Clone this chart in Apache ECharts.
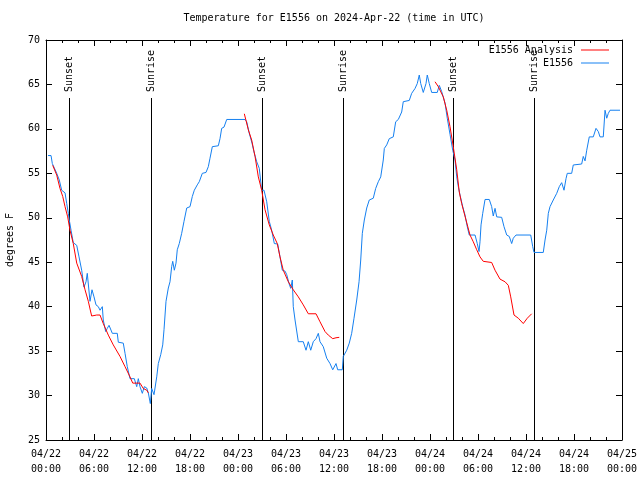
<!DOCTYPE html>
<html><head><meta charset="utf-8">
<script src="https://cdn.jsdelivr.net/npm/echarts@6/dist/echarts.min.js"></script>
<style>html,body{margin:0;padding:0;background:#fff}#c{width:640px;height:480px}</style>
</head><body><div id="c"></div>
<script>
// Observed series E1556 (hours since 2024-04-22 00:00 UTC, degrees F)
var obsHours = [0.25,0.63,0.79,1.04,1.34,1.66,1.96,2.38,2.59,2.79,2.91,3.13,3.41,3.84,4.13,4.46,4.75,5.0,5.16,5.34,5.5,5.75,6.0,6.25,6.54,6.75,7.04,7.16,7.46,7.66,7.88,8.13,8.29,8.91,9.04,9.66,9.88,10.16,10.5,11.04,11.34,11.54,11.75,12.04,12.29,12.59,12.79,13.04,13.21,13.5,13.84,14.04,14.34,14.59,14.75,15.0,15.29,15.5,15.71,15.84,16.04,16.25,16.41,16.66,16.96,17.25,17.59,18.0,18.29,18.54,18.91,19.16,19.54,20.0,20.29,20.5,20.79,21.54,21.75,21.96,22.25,22.59,24.88,25.09,25.41,25.75,26.0,26.34,26.66,26.96,27.25,27.59,27.91,28.21,28.54,28.96,29.25,29.54,29.88,30.09,30.38,30.59,30.79,30.91,31.13,31.54,32.16,32.5,32.79,33.09,33.41,33.75,34.04,34.25,34.66,35.09,35.5,35.84,36.25,36.46,37.04,37.16,37.59,37.91,38.21,38.5,38.84,39.13,39.34,39.54,39.79,40.09,40.41,40.91,41.21,41.54,41.84,42.16,42.29,42.59,42.91,43.41,43.71,44.04,44.46,44.66,45.41,45.71,46.13,46.41,46.66,46.84,47.16,47.5,47.66,47.91,48.21,48.91,49.16,49.46,49.88,50.16,50.5,50.84,51.13,51.34,51.54,51.75,52.09,52.38,52.66,52.91,53.63,53.91,54.13,54.25,54.38,54.59,54.88,55.41,55.71,55.91,56.13,56.34,56.96,57.25,57.59,57.91,58.21,58.41,58.75,60.59,60.84,61.0,62.16,62.38,62.59,62.79,63.0,63.41,63.84,64.16,64.46,64.75,65.0,65.16,65.71,65.91,66.96,67.16,67.38,67.59,67.91,68.41,68.75,69.04,69.25,69.66,69.88,70.09,70.29,70.5,71.75];
var obsTemps = [57.0,57.0,56.1,55.9,55.0,54.25,53.1,52.8,51.6,50.5,49.75,48.6,47.2,46.9,45.6,44.1,42.2,42.8,43.75,43.9,40.6,41.9,41.1,40.2,40.0,39.6,40.0,38.5,37.2,37.56,37.9,37.75,37.0,37.0,36.0,35.9,34.75,33.25,31.9,31.9,31.0,31.9,31.0,30.25,31.0,30.85,30.3,29.1,30.8,30.1,32.1,33.6,34.6,35.7,37.4,40.6,42.1,42.8,44.5,45.1,44.1,44.9,46.4,47.1,48.25,49.6,51.1,51.25,52.4,53.1,53.7,54.06,55.0,55.1,55.75,56.7,58.0,58.1,58.9,60.06,60.2,61.06,61.06,60.8,59.5,58.4,57.4,56.3,55.56,53.1,53.1,51.8,49.6,48.6,47.1,47.05,45.6,44.1,44.0,43.6,42.6,42.06,43.0,40.0,38.5,36.06,36.06,35.1,36.06,35.1,36.06,36.4,37.0,36.06,35.5,34.2,33.6,32.9,33.6,32.9,32.9,34.4,35.1,35.9,37.0,38.7,40.75,42.8,45.25,48.25,49.75,51.1,52.0,52.2,53.3,54.06,54.6,56.5,57.8,58.2,58.9,59.1,60.8,61.06,61.9,63.06,63.2,64.0,64.55,65.1,66.06,65.1,64.1,65.1,66.06,65.1,64.1,64.1,64.9,64.2,62.9,61.2,59.4,57.6,56.5,54.6,53.5,52.56,51.25,50.3,49.0,48.06,48.06,47.1,46.2,47.3,49.2,50.5,52.06,52.06,51.25,50.2,51.06,50.1,50.05,49.0,48.06,47.9,47.1,47.7,48.06,48.06,46.75,46.1,46.1,47.5,48.6,50.5,51.25,52.0,52.75,53.5,53.95,53.1,54.4,55.0,55.0,55.94,56.05,56.9,56.4,57.6,59.1,59.1,60.06,59.7,59.1,59.1,62.1,61.2,61.75,62.1,62.1];

// Analysis series (three nightly segments)
var anaHours1 = [0.84,1.34,1.75,2.09,2.38,2.71,3.0,3.41,3.84,4.46,4.88,5.29,5.59,5.71,6.34,6.75,7.16,7.79,8.41,9.25,9.88,10.5,10.84,11.75,12.16,12.59,12.79];
var anaTemps1 = [55.9,54.8,53.3,52.4,51.25,50.1,48.6,47.1,44.9,43.4,41.9,40.6,39.4,38.95,39.06,39.06,38.1,36.8,35.7,34.4,33.25,32.1,31.4,31.4,30.8,30.6,30.3];
var anaHours2 = [24.79,25.29,25.71,26.13,26.54,26.96,27.38,27.91,28.41,28.91,29.25,29.66,30.29,30.91,31.54,32.16,32.79,33.75,34.25,34.88,35.29,35.84,36.25,36.66];
var anaTemps2 = [61.7,59.9,58.75,56.9,54.6,53.1,50.9,49.2,48.06,47.1,45.6,44.1,42.8,41.9,41.1,40.2,39.2,39.2,38.3,37.2,36.8,36.4,36.5,36.55];
var anaHours3 = [48.63,49.04,49.66,50.09,50.5,50.91,51.34,51.66,51.96,52.5,53.0,53.41,53.84,54.25,54.66,55.71,56.13,56.75,57.38,57.79,58.09,58.5,59.04,59.66,60.16,60.71];
var anaTemps3 = [65.3,64.75,63.6,62.1,60.25,58.0,55.4,52.9,51.6,49.75,48.06,47.3,46.4,45.6,45.1,44.97,44.1,43.1,42.8,42.4,41.1,39.06,38.7,38.1,38.7,39.2];

// Sun events
var sunHours = [2.92, 13.13, 26.94, 37.15, 50.92, 61.05];
var sunLabels = ['Sunset','Sunrise','Sunset','Sunrise','Sunset','Sunrise'];
var sunLineTop = 63.45;

// Axis
var dayLabels = ['04/22','04/23','04/24','04/25'];
var yMin = 25, yMax = 70, yStep = 5;
var xMin = 0, xMax = 72, xStep = 6;

var FONT = '"DejaVu Sans Mono", monospace';
function pairs(a, b){ return a.map(function(v,i){ return [v, b[i]]; }); }
function pad(n){ return (n<10?'0':'') + n; }

var chart = echarts.init(document.getElementById('c'), null, {renderer:'canvas'});
var axisCommon = {
  type:'value', min:xMin, max:xMax, interval:xStep,
  axisLine:{show:true, onZero:false, lineStyle:{color:'#000', width:1}},
  axisTick:{show:true, inside:true, length:6, lineStyle:{color:'#000'}},
  minorTick:{show:true, splitNumber:3, length:3, lineStyle:{color:'#000'}},
  splitLine:{show:false}, minorSplitLine:{show:false}
};
var yCommon = {
  type:'value', min:yMin, max:yMax, interval:yStep,
  axisLine:{show:true, onZero:false, lineStyle:{color:'#000', width:1}},
  axisTick:{show:true, inside:true, length:6, lineStyle:{color:'#000'}},
  splitLine:{show:false}
};
var anaStyle = {type:'line', name:'E1556 Analysis', showSymbol:false, symbol:'none', color:'#ff0000',
  lineStyle:{color:'#ff0000', width:1}, xAxisIndex:0, yAxisIndex:0, z:3};

chart.setOption({
  animation:false,
  backgroundColor:'#fff',
  title:{text:'Temperature for E1556 on 2024-Apr-22 (time in UTC)', left:334, top:13, padding:0, textAlign:'center',
    textStyle:{fontFamily:FONT, fontSize:10, fontWeight:'normal', color:'#000'}},
  grid:{left:46, right:18, top:40, bottom:40, containLabel:false, outerBoundsMode:'none'},
  legend:[
    {data:['E1556 Analysis'], right:31, top:44, padding:0, align:'right', icon:'rect', itemWidth:28, itemHeight:1,
     textStyle:{fontFamily:FONT, fontSize:10, color:'#000', lineHeight:12, padding:[0,3,0,0]}},
    {data:['E1556'], right:31, top:57, padding:0, align:'right', icon:'rect', itemWidth:28, itemHeight:1,
     textStyle:{fontFamily:FONT, fontSize:10, color:'#000', lineHeight:12, padding:[0,3,0,0]}}
  ],
  xAxis:[
    Object.assign({}, axisCommon, {position:'bottom',
      axisLabel:{show:true, margin:7, fontFamily:FONT, fontSize:10, color:'#000', lineHeight:15,
        formatter:function(v){ var d=Math.floor(v/24); var h=Math.round(v-d*24); return dayLabels[d] + '\n' + pad(h) + ':00'; }}}),
    Object.assign({}, axisCommon, {position:'top', axisLabel:{show:false}})
  ],
  yAxis:[
    Object.assign({}, yCommon, {position:'left', name:'degrees F', nameLocation:'middle', nameGap:31, nameRotate:90,
      nameTextStyle:{fontFamily:FONT, fontSize:10, color:'#000'},
      axisLabel:{show:true, margin:6, fontFamily:FONT, fontSize:10, color:'#000'}}),
    Object.assign({}, yCommon, {position:'right', axisLabel:{show:false}})
  ],
  series:[
    {type:'custom', name:'sun', xAxisIndex:0, yAxisIndex:0, z:1, silent:true,
     data: sunHours.map(function(h){ return [h, yMin]; }),
     renderItem:function(params, api){
       var t = api.value(0);
       var p0 = api.coord([t, yMin]);
       var p1 = api.coord([t, sunLineTop]);
       var x = Math.round(p0[0]) + 0.5;
       return {type:'group', children:[
         {type:'line', shape:{x1:x, y1:p0[1], x2:x, y2:Math.round(p1[1])}, style:{stroke:'#000', lineWidth:1}},
         {type:'text', x:x, y:Math.round(p1[1]) - 6, rotation:Math.PI/2,
          style:{text:sunLabels[params.dataIndex], fontFamily:FONT, fontSize:10, fill:'#000', align:'left', verticalAlign:'middle'}}
       ]};
     }},
    Object.assign({}, anaStyle, {data:pairs(anaHours1, anaTemps1)}),
    Object.assign({}, anaStyle, {data:pairs(anaHours2, anaTemps2)}),
    Object.assign({}, anaStyle, {data:pairs(anaHours3, anaTemps3)}),
    {type:'line', name:'E1556', showSymbol:false, symbol:'none', color:'#1580f0',
     lineStyle:{color:'#1580f0', width:1}, data:pairs(obsHours, obsTemps), z:2}
  ]
});
</script></body></html>
